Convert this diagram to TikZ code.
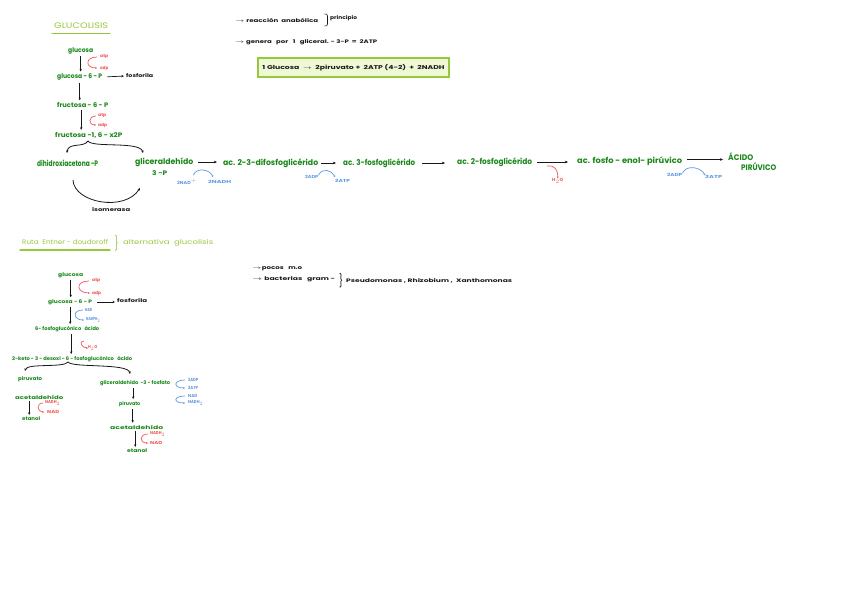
\documentclass[tikz,border=0pt]{standalone}
\usepackage{graphicx}
\usepackage{fontspec}
\setmainfont{Poppins}
\usetikzlibrary{arrows.meta}
\definecolor{dg}{RGB}{25,135,25}
\definecolor{lg}{RGB}{150,200,60}
\definecolor{rd}{RGB}{242,88,88}
\definecolor{bl}{RGB}{95,155,225}
\definecolor{bxf}{RGB}{238,248,212}
\definecolor{ink}{RGB}{25,25,25}
\newcommand{\fw}[2]{\resizebox{#1pt}{\height}{#2}}
\begin{document}
\begin{tikzpicture}[x=1pt,y=-1pt,
  every node/.style={inner sep=0pt,anchor=west},
  gr/.style={text=dg,font=\fontsize{8}{9}\selectfont\bfseries},
  gc/.style={text=dg,font=\fontsize{6.5}{7}\selectfont\bfseries},
  gs/.style={text=dg,font=\fontsize{5}{6}\selectfont\bfseries},
  rt/.style={text=rd,font=\fontsize{4.3}{5}\selectfont\bfseries},
  bt/.style={text=bl,font=\fontsize{4.3}{5}\selectfont\bfseries},
  kt/.style={text=ink,font=\fontsize{5}{6}\selectfont\bfseries},
  ttl/.style={text=lg,font=\fontsize{6.5}{7}\selectfont},
  arr/.style={draw=ink,-{Stealth[length=3.2pt,width=2.8pt]},line width=0.8pt},
  sarr/.style={draw=ink,-{Stealth[length=2.6pt,width=2.4pt]},line width=0.7pt,shorten >=2pt,shorten <=2pt},
  hookr/.style={draw=rd,line width=0.7pt,-{Stealth[length=1.8pt,width=1.8pt]}},
  hookb/.style={draw=bl,line width=0.7pt,-{Stealth[length=1.8pt,width=1.8pt]}},
  curve/.style={draw=ink,line width=0.8pt,-{Stealth[length=2.6pt,width=2.4pt]}},
]
\useasboundingbox (0,0) rectangle (848,599);
\fill[white] (0,0) rectangle (848,599);

% ---------------- Glucolisis ----------------
\node[text=lg,font=\fontsize{8}{9}\selectfont] (title) at (54,26) {\fw{54}{GLUCOLISIS}};
\draw[lg,line width=1.3pt,line cap=round] (52,33.5) -- (110,33.5);

\node[gc] (g1) at (68,51) {\fw{25}{glucosa}};
\node[rt] (atp1) at (100,57) {\fw{8}{atp}};
\node[rt] (adp1) at (100,68) {\fw{8}{adp}};
\node[gc] (g6p) at (57,77) {\fw{45}{glucosa - 6 - P}};
\node[kt] (fos1) at (126,76) {\fw{27}{fosforila}};
\node[gc] (f6p) at (57,105) {\fw{51}{fructosa - 6 - P}};
\node[rt] (atp2) at (98,116) {\fw{8}{atp}};
\node[rt] (adp2) at (98,125) {\fw{9}{adp}};
\node[gc] (f16) at (55,135) {\fw{67}{fructosa -1, 6 - x2P}};

\draw[sarr] (g1.south) -- (g1.south |- g6p.north);
\draw[sarr,shorten <=5pt] (g6p.east) -- (fos1.west);
\draw[sarr] (g6p.south) -- (g6p.south |- f6p.north);
\draw[sarr] ([xshift=-1.5pt]f6p.south) -- ([xshift=-1.5pt]f6p.south |- f16.north);
\draw[hookr] ([xshift=-3pt]atp1.west) .. controls +(-12,0) and +(-12,0) .. ([xshift=-3pt]adp1.west);
\draw[hookr] ([xshift=-2pt]atp2.west) .. controls +(-8,0) and +(-8,0) .. ([xshift=-2pt]adp2.west);

\node[gr] (dhap) at (37,163) {\fw{61}{dihidroxiacetona -P}};
\node[gr] (gal) at (135,162) {\fw{58}{gliceraldehído}};
\node[gc] (gal3) at (152,173) {\fw{15}{3 -P}};
\node[kt] (iso) at (92,210) {\fw{38}{isomerasa}};

\coordinate (bpk) at (88,141);
\coordinate (bl1) at (67,153);
\coordinate (br1) at (143,153);
\draw[curve] (bpk) .. controls (84,148) and (68,142) .. (bl1);
\draw[curve] (bpk) .. controls (92,148) and (140,141) .. (br1);
\coordinate (is1) at (73,180);
\coordinate (is2) at (140,188);
\draw[curve] (is1) .. controls (74,203) and (125,212) .. (is2);

\node[gr] (dpg) at (223,163) {\fw{95}{ac. 2-3-difosfoglicérido}};
\node[gr] (pg3) at (343,163) {\fw{72}{ac. 3-fosfoglicérido}};
\node[gr] (pg2) at (457,162) {\fw{75}{ac. 2-fosfoglicérido}};
\node[gr] (pep) at (577,161) {\fw{105}{ac. fosfo - enol- pirúvico}};
\node[gr] (acido) at (728,157) {\fw{25}{ÁCIDO}};
\node[gr] (piruv) at (741,167) {\fw{35}{PIRÚVICO}};

\draw[arr,shorten <=5pt,shorten >=6pt] (gal.east) -- (gal.east -| dpg.west);
\draw[arr,shorten <=3pt,shorten >=7pt] (dpg.east) -- (dpg.east -| pg3.west);
\draw[arr,shorten <=7pt,shorten >=12pt] (pg3.east) -- (pg3.east -| pg2.west);
\draw[arr,shorten <=5pt,shorten >=9pt] (pg2.east) -- (pg2.east -| pep.west);
\draw[arr,shorten <=5pt,shorten >=5pt] ([yshift=1.5pt]pep.east) -- ([yshift=1.5pt]pep.east -| acido.west);

\node[bt] (nad1) at (177,182) {\fw{20}{2NAD$^{+}$}};
\node[bt] (nadh1) at (208,182) {\fw{23}{2NADH}};
\draw[hookb] ([xshift=-4pt,yshift=4pt]nad1.north east) .. controls +(3,-8) and +(-3,-8) .. ([xshift=5pt,yshift=3pt]nadh1.north west);
\node[bt] (adp3) at (305,177) {\fw{13}{2ADP}};
\node[bt] (atp3) at (335,181) {\fw{15}{2ATP}};
\draw[hookb] (adp3.north east) .. controls +(4,-8) and +(-3,-7) .. ([yshift=2pt]atp3.north west);
\coordinate (h2s) at (547,166);
\node[rt] (h2o) at (552,181) {\fw{11}{H$_2$O}};
\draw[hookr] (h2s) .. controls (555,165) and (558,170) .. (h2o.north);
\node[bt] (adp4) at (667,175) {\fw{15}{2ADP}};
\node[bt] (atp4) at (705,177) {\fw{17}{2ATP}};
\draw[hookb] (adp4.north east) .. controls +(4,-9) and +(-4,-8) .. (atp4.north west);

% top right notes
\node[kt] (r1) at (235,20) {\fw{83}{$\rightarrow$ reacción \ anabólica}};
\draw[ink,line width=0.6pt] (324.5,14) .. controls (327,14) .. (327.5,16) -- (327.5,24) .. controls (327,26) .. (324.5,26);
\node[kt] (r1b) at (330,18) {\fw{27}{principio}};
\node[kt] (r2) at (235,42) {\fw{142}{$\rightarrow$ genera \ \ por \ \ 1 \ \ gliceral. - 3-P \ = \ 2ATP}};
\node[draw=lg,fill=bxf,line width=1.1pt,minimum width=191pt,minimum height=19pt,anchor=center,
  text=ink,font=\fontsize{5.5}{6}\selectfont\bfseries] (box) at (353.5,67.5)
  {\fw{182}{1 Glucosa \ $\rightarrow$ \ 2piruvato + \ 2ATP (4-2) \ + \ 2NADH}};

% ---------------- Entner-Doudoroff ----------------
\node[ttl] (ruta) at (22,242) {\fw{86}{Ruta \ Entner - doudoroff}};
\draw[lg,line width=1.1pt,line cap=round] (20,250) -- (110,250);
\node[text=lg,font=\fontsize{10}{10}\selectfont,anchor=center] (rb) at (116.5,243) {\resizebox{4pt}{13pt}{\}}};
\node[ttl] (alt) at (123,243) {\fw{90}{alternativa \ glucolisis}};

\node[gs] (eg1) at (58,275) {\fw{25}{glucosa}};
\node[rt] (atp5) at (92,281) {\fw{8}{atp}};
\node[rt] (adp5) at (92,293) {\fw{9}{adp}};
\node[gs] (eg6p) at (48,302) {\fw{44}{glucosa - 6 - P}};
\node[kt] (fos2) at (117,301) {\fw{30}{fosforila}};
\node[bt] (nad5) at (85,310) {\fw{7}{NAD}};
\node[bt] (nadph5) at (86,320) {\fw{14}{NADPH$_2$}};
\node[gs] (pgluc) at (35,329) {\fw{64}{6- fosfoglucónico \ \ ácido}};
\coordinate (h2t) at (84,341);
\node[rt] (h2o2) at (88,348) {\fw{9}{H$_2$O}};
\node[gs] (kdpg) at (12,359) {\fw{120}{2-keto - 3 - desoxi - 6 - fosfoglucónico \ \ ácido}};

\draw[sarr] (eg1.south) -- (eg1.south |- eg6p.north);
\draw[sarr,shorten <=5pt] (eg6p.east) -- (eg6p.east -| fos2.west);
\draw[sarr] (eg6p.south) -- (eg6p.south |- pgluc.north);
\draw[sarr] ([xshift=4pt]pgluc.south) -- ([xshift=4pt]pgluc.south |- kdpg.north);
\draw[hookr] ([xshift=-3pt]atp5.west) .. controls +(-14,0) and +(-14,0) .. ([xshift=-2pt]adp5.west);
\draw[hookb] ([xshift=-2pt]nad5.west) .. controls +(-11,0) and +(-11,0) .. ([xshift=-2pt]nadph5.west);
\draw[hookr] (h2t) .. controls +(-6,0) and +(-6,0) .. (h2o2.west);

\coordinate (bpk2) at (68,362);
\coordinate (bl2) at (25,371);
\coordinate (br2) at (130,374);
\draw[curve] (bpk2) .. controls (64,368) and (27,363) .. (bl2);
\draw[curve] (bpk2) .. controls (72,368) and (128,363) .. (br2);

\node[gs] (piru1) at (18,379) {\fw{24}{piruvato}};
\node[gs] (acet1) at (15,397) {\fw{48}{acetaldehído}};
\node[rt] (nadh6) at (45,403) {\fw{15}{NADH$_2$}};
\node[rt] (nad6) at (47,412) {\fw{12}{NAD}};
\node[gs] (etoh1) at (22,419) {\fw{18}{etanol}};
\draw[sarr] ([xshift=-2pt]etoh1.north |- acet1.south) -- ([xshift=-2pt]etoh1.north);
\draw[hookr] ([xshift=-2pt]nadh6.west) .. controls +(-7,0) and +(-7,0) .. ([xshift=-3pt]nad6.west);

\node[gs] (gap) at (100,383) {\fw{70}{gliceraldehído \ -3 - fosfato}};
\node[bt] (adp7) at (188,380) {\fw{10}{2ADP}};
\node[bt] (atp7) at (188,388) {\fw{10}{2ATP}};
\node[bt] (nad7) at (188,396) {\fw{9}{NAD}};
\node[bt] (nadh7) at (188,403) {\fw{15}{NADH$_2$}};
\draw[hookb] ([xshift=-3pt]adp7.west) .. controls +(-12,0) and +(-12,0) .. ([xshift=-3pt]atp7.west);
\draw[hookb] ([xshift=-3pt]nad7.west) .. controls +(-12,0) and +(-12,0) .. ([xshift=-3pt]nadh7.west);
\node[gs] (piru2) at (119,404) {\fw{21}{piruvato}};
\node[gs] (acet2) at (110,427) {\fw{53}{acetaldehído}};
\node[rt] (nadh8) at (150,434) {\fw{15}{NADH$_2$}};
\node[rt] (nad8) at (150,443) {\fw{12}{NAD}};
\node[gs] (etoh2) at (127,451) {\fw{20}{etanol}};
\draw[sarr] ([xshift=-2pt]gap.south) -- ([xshift=-2pt]gap.south |- piru2.north);
\draw[sarr] ([xshift=3pt]piru2.south) -- ([xshift=3pt]piru2.south |- acet2.north);
\draw[sarr] ([xshift=-2pt]etoh2.north |- acet2.south) -- ([xshift=-2pt]etoh2.north);
\draw[hookr] ([xshift=-2pt]nadh8.west) .. controls +(-9,0) and +(-9,0) .. ([xshift=-2pt]nad8.west);

\node[kt] (pm) at (252,269) {\fw{50}{$\rightarrow$pocos \ \ m.o}};
\node[kt] (bg) at (252,279) {\fw{83}{$\rightarrow$ bacterias \ \ gram -}};
\node[text=ink,font=\fontsize{10}{10}\selectfont,anchor=center] (bb) at (341,280.5) {\resizebox{4pt}{12pt}{\}}};
\node[kt] (bac) at (346,281) {\fw{166}{Pseudomonas , Rhizobium , \ Xanthomonas}};
\end{tikzpicture}
\end{document}
